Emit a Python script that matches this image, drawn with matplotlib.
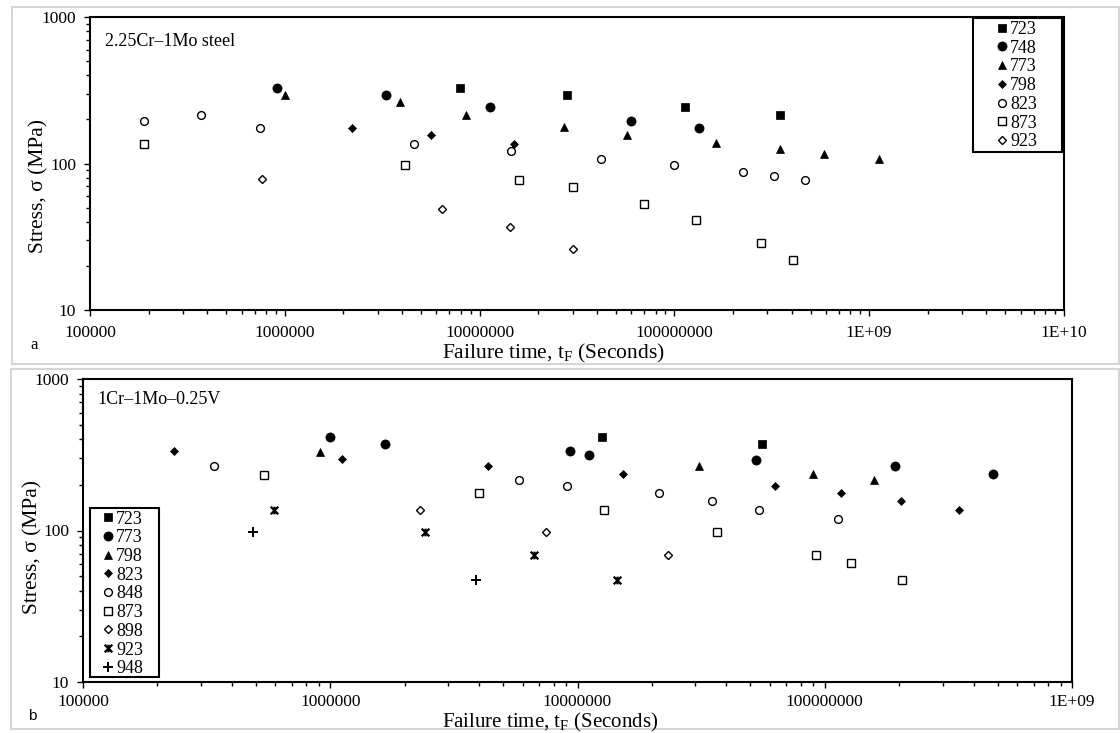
import matplotlib
matplotlib.use("Agg")
import matplotlib.pyplot as plt
from matplotlib.path import Path
from matplotlib.patches import Rectangle
from matplotlib.ticker import LogLocator, NullFormatter, FixedLocator

plt.rcParams['font.family'] = ['Liberation Serif', 'DejaVu Serif']
plt.rcParams['mathtext.fontset'] = 'custom'
plt.rcParams['mathtext.rm'] = 'Liberation Serif'
plt.rcParams['mathtext.it'] = 'Liberation Serif:italic'

# ---- panel a : 2.25Cr-1Mo steel (temperature K -> failure time s, stress MPa)
a_labels = ['723', '748', '773', '798', '823', '873', '923']
a_t723 = [7.9e6, 2.8e7, 1.13e8, 3.5e8]
a_s723 = [330, 292, 243, 214]
a_t748 = [9.1e5, 3.3e6, 1.13e7, 6.0e7, 1.33e8]
a_s748 = [330, 292, 243, 194, 175]
a_t773 = [1.0e6, 3.9e6, 8.5e6, 2.7e7, 5.7e7, 1.63e8, 3.5e8, 5.85e8, 1.12e9]
a_s773 = [292, 262, 214, 177, 156, 137, 126, 117, 108]
a_t798 = [2.2e6, 5.6e6, 1.5e7]
a_s798 = [176, 156, 136]
a_t823 = [1.9e5, 3.7e5, 7.5e5, 4.6e6, 1.45e7, 4.2e7, 1.0e8, 2.26e8, 3.24e8, 4.66e8]
a_s823 = [195, 214, 176, 135, 122, 108, 97.5, 87.7, 82.8, 77.4]
a_t873 = [1.9e5, 4.15e6, 1.6e7, 3.0e7, 7.0e7, 1.29e8, 2.78e8, 4.06e8]
a_s873 = [135, 97, 77.4, 68.6, 52.8, 41.1, 28.8, 21.9]
a_t923 = [7.6e5, 6.4e6, 1.44e7, 3.0e7]
a_s923 = [77.8, 48.9, 36.8, 26.1]

# ---- panel b : 1Cr-1Mo-0.25V
b_labels = ['723', '773', '798', '823', '848', '873', '898', '923', '948']
b_t723 = [1.26e7, 5.56e7]
b_s723 = [412, 374]
b_t773 = [1.0e6, 1.66e6, 9.3e6, 1.11e7, 5.27e7, 1.92e8, 4.8e8]
b_s773 = [412, 374, 335, 315, 293, 265, 236]
b_t798 = [9.1e5, 3.1e7, 9.0e7, 1.585e8]
b_s798 = [331, 265, 236, 216]
b_t823 = [2.34e5, 1.12e6, 4.33e6, 1.53e7, 6.3e7, 1.166e8, 2.03e8, 3.5e8]
b_s823 = [335, 295, 265, 236, 196, 178, 157, 137]
b_t848 = [3.38e5, 5.8e6, 9.05e6, 2.13e7, 3.49e7, 5.43e7, 1.127e8]
b_s848 = [265, 215, 196, 178, 157, 137, 118.6]
b_t873 = [5.42e5, 3.98e6, 1.28e7, 3.66e7, 9.23e7, 1.276e8, 2.055e8]
b_s873 = [234, 178, 137, 98, 69.2, 61.3, 47]
b_t898 = [2.31e6, 7.43e6, 2.33e7]
b_s898 = [137, 98, 69.2]
b_t923 = [5.94e5, 2.42e6, 6.65e6, 1.44e7]
b_s923 = [137, 98, 69, 47]
b_t948 = [4.89e5, 3.89e6]
b_s948 = [98, 47]

a_xticks = [1e5, 1e6, 1e7, 1e8, 1e9, 1e10]
a_xticklabels = ['100000', '1000000', '10000000', '100000000', '1E+09', '1E+10']
b_xticks = [1e5, 1e6, 1e7, 1e8, 1e9]
b_xticklabels = ['100000', '1000000', '10000000', '100000000', '1E+09']
yticks = [10, 100, 1000]
yticklabels = ['10', '100', '1000']

# excel style "star" marker: an x crossed by a vertical stroke
star = Path([(-1, -1), (1, 1), (-1, 1), (1, -1), (0, -1), (0, 1)],
            [Path.MOVETO, Path.LINETO, Path.MOVETO, Path.LINETO, Path.MOVETO, Path.LINETO])

fill_sq = dict(marker='s', ms=6.0, mfc='black', mec='black', mew=0.5)
fill_ci = dict(marker='o', ms=6.6, mfc='black', mec='black', mew=0.5)
fill_tr = dict(marker='^', ms=6.4, mfc='black', mec='black', mew=0.5)
fill_di = dict(marker='D', ms=3.8, mfc='black', mec='black', mew=0.5)
open_ci = dict(marker='o', ms=5.6, mfc='white', mec='black', mew=1.0)
open_sq = dict(marker='s', ms=5.4, mfc='white', mec='black', mew=1.0)
open_di = dict(marker='D', ms=3.8, mfc='white', mec='black', mew=1.0)
star_m = dict(marker=star, ms=5.5, mfc='black', mec='black', mew=1.6)
plus_m = dict(marker='+', ms=7.0, mfc='black', mec='black', mew=1.4)

W, H = 1120, 733
fig = plt.figure(figsize=(W / 100, H / 100), dpi=100)


def fx(x):
    return x / W


def fy(y):
    return 1 - y / H


def add_ax(l, t, r, b):
    return fig.add_axes([fx(l), fy(b), (r - l) / W, (b - t) / H])


def style_axis(ax, xlim, xticks, xticklabels, xpad):
    ax.set_xscale('log')
    ax.set_yscale('log')
    ax.set_xlim(*xlim)
    ax.set_ylim(10, 1000)
    ax.xaxis.set_major_locator(FixedLocator(xticks))
    ax.set_xticklabels(xticklabels)
    ax.yaxis.set_major_locator(FixedLocator(yticks))
    ax.set_yticklabels(yticklabels)
    ax.xaxis.set_minor_locator(LogLocator(base=10, subs=range(2, 10), numticks=100))
    ax.yaxis.set_minor_locator(LogLocator(base=10, subs=range(2, 10), numticks=100))
    ax.xaxis.set_minor_formatter(NullFormatter())
    ax.yaxis.set_minor_formatter(NullFormatter())
    ax.tick_params(which='both', direction='out', width=1.0, colors='black', labelsize=12.5)
    ax.tick_params(which='major', length=4)
    ax.tick_params(which='minor', length=3)
    ax.tick_params(axis='x', pad=xpad)
    ax.tick_params(axis='y', pad=6)
    for sp in ax.spines.values():
        sp.set_linewidth(1.5)
        sp.set_color('black')


# gray frames of the two original images
fig.patches.append(Rectangle((fx(12), fy(364)), (1119 - 12) / W, (364 - 7) / H,
                             transform=fig.transFigure, fill=False, ec='#d6d6d6', lw=1.5))
fig.patches.append(Rectangle((fx(11), fy(729)), (1119 - 11) / W, (729 - 369) / H,
                             transform=fig.transFigure, fill=False, ec='#d6d6d6', lw=1.5))

# ---------------- panel a
ax1 = add_ax(90, 17, 1064, 310)
style_axis(ax1, (1e5, 1e10), a_xticks, a_xticklabels, 7)
a_series = [(a_t723, a_s723, fill_sq), (a_t748, a_s748, fill_ci), (a_t773, a_s773, fill_tr),
            (a_t798, a_s798, fill_di), (a_t823, a_s823, open_ci), (a_t873, a_s873, open_sq),
            (a_t923, a_s923, open_di)]
for (t, s, st), lab in zip(a_series, a_labels):
    ax1.plot(t, s, ls='none', label=lab, **st)

fig.patches.append(Rectangle((fx(973), fy(152)), (1062 - 973) / W, (152 - 18) / H,
                             transform=fig.transFigure, fill=False, ec='black', lw=1.5, zorder=5))
ax1.legend(loc='upper left', bbox_to_anchor=(fx(996.6), fy(21)), bbox_transform=fig.transFigure,
           frameon=False, fontsize=13, borderpad=0, borderaxespad=0, handlelength=0.6,
           handletextpad=0.15, labelspacing=0.095)

fig.text(fx(105), fy(42), '2.25Cr\u20131Mo steel', fontsize=13, ha='left', va='center')
fig.text(fx(39), fy(186), 'Stress, \u03c3 (MPa)', fontsize=15.5, rotation=90, ha='center', va='center')
fig.text(fx(553), fy(358), 'Failure time, t$_{\\mathrm{F}}$ (Seconds)', fontsize=15.5,
         ha='center', va='baseline')
fig.text(fx(34), fy(345), 'a', fontsize=12, ha='center', va='center')

# ---------------- panel b
ax2 = add_ax(83, 379, 1072, 682)
style_axis(ax2, (1e5, 1e9), b_xticks, b_xticklabels, 4.5)
b_series = [(b_t723, b_s723, fill_sq), (b_t773, b_s773, fill_ci), (b_t798, b_s798, fill_tr),
            (b_t823, b_s823, fill_di), (b_t848, b_s848, open_ci), (b_t873, b_s873, open_sq),
            (b_t898, b_s898, open_di), (b_t923, b_s923, star_m), (b_t948, b_s948, plus_m)]
for (t, s, st), lab in zip(b_series, b_labels):
    ax2.plot(t, s, ls='none', label=lab, **st)

fig.patches.append(Rectangle((fx(90), fy(677)), (159 - 90) / W, (677 - 508) / H,
                             transform=fig.transFigure, fill=False, ec='black', lw=1.5, zorder=5))
ax2.legend(loc='upper left', bbox_to_anchor=(fx(102.6), fy(510.5)), bbox_transform=fig.transFigure,
           frameon=False, fontsize=13, borderpad=0, borderaxespad=0, handlelength=0.6,
           handletextpad=0.15, labelspacing=0.095)

fig.text(fx(97), fy(400), '1Cr\u20131Mo\u20130.25V', fontsize=13, ha='left', va='center')
fig.text(fx(33), fy(547), 'Stress, \u03c3 (MPa)', fontsize=15.5, rotation=90, ha='center', va='center')
fig.text(fx(550), fy(727), 'Failure time, t$_{\\mathrm{F}}$ (Seconds)', fontsize=15,
         ha='center', va='baseline')
fig.text(fx(32), fy(716), 'b', fontsize=11, ha='center', va='center', family='Liberation Sans')

fig.savefig('out.png', dpi=100)
